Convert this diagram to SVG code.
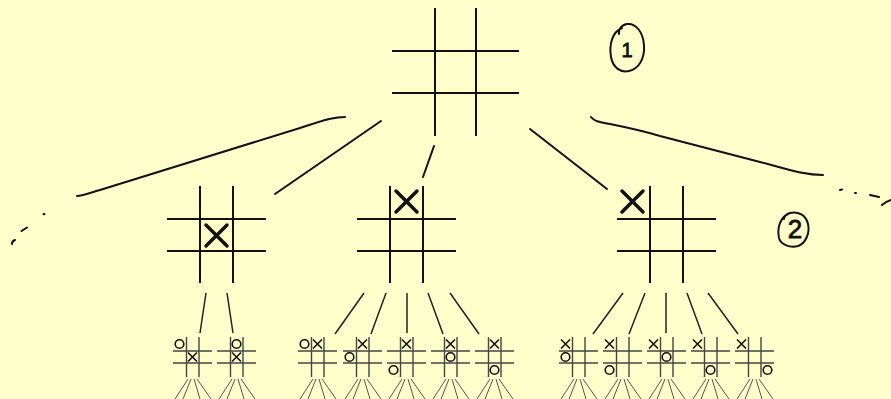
<svg xmlns="http://www.w3.org/2000/svg" width="891" height="399" viewBox="0 0 891 399">
<style>
.ln{stroke:#111;stroke-width:2;fill:none;stroke-linecap:butt}
.cn{stroke:#111;stroke-width:2;fill:none;stroke-linecap:round}
.cs{stroke:#222;stroke-width:1.5;fill:none}
.bx{stroke:#111;stroke-width:3.5;fill:none;stroke-linecap:round}
.sg{stroke:#444;stroke-width:1.4;fill:none}
.sm{stroke:#111;stroke-width:1.6;fill:none}
.fan{stroke:#555;stroke-width:1;fill:none}
.lbl{font-family:"Liberation Sans",Arial,sans-serif;fill:#111;stroke:#111;stroke-width:0.8;text-anchor:middle}
</style>
<defs>
<g id="mgrid">
<path class="ln" d="M33,0V97M66,0V97M0,33H99M0,65H99"/>
</g>
<g id="sgrid">
<path class="sg" d="M13.5,0V40M26,0V40M0,14H39M0,26H39"/>
<path class="fan" d="M15,42L2,62M18,42L10,62M21,42L27,62M24,42L38,62"/>
</g>
<g id="sx"><path class="sm" d="M-4.5,-4.5L4.5,4.5M4.5,-4.5L-4.5,4.5"/></g>
<g id="so"><circle class="sm" r="4.3"/></g>
</defs>
<rect width="891" height="399" fill="#FFFFCC"/>

<g id="connectors">
<path class="cn" d="M345,117C336,117 330,118 300,128L100,190C90,193 82,196 77,196"/>
<path class="cn" d="M43.5,214l1,0.3M21.5,231L27,227.5M12,244Q12,241 15,240" stroke-width="1.5"/>
<path class="cn" d="M381,121L275,194"/>
<path class="cn" d="M434,146L423,177"/>
<path class="cn" d="M530,129L607,189"/>
<path class="cn" d="M591,117C594,121 598,122 610,124C625,127 640,130 660,136L760,162C790,170 805,175 823,175"/>
<path class="cn" d="M840,190l2,-0.4M855,193l1,0M870,195L879,197M882,205Q885,202 891,200" stroke-width="1.5"/>
<path class="cs" d="M206,293L200,333M227,293L233,333"/>
<path class="cs" d="M364,293L335,334M386,293L371,334M407,293L407,333M428,293L443,334M450,293L479,334"/>
<path class="cs" d="M623,293L593,334M645,293L629,334M666,293L666,333M687,293L702,334M708,293L738,334"/>
</g>

<g id="root">
<path class="ln" d="M435,8V136M476,8V136M392,51H519M392,93H519"/>
</g>

<g id="label1">
<path class="cn" d="M622,28C612,32 609,45 611,57C613,68 621,73 629,71C639,69 645,58 644,45C643,32 636,23 627,24C621,25 618,30 619,34"/>
<text class="lbl" x="627" y="57" font-size="20" stroke-width="0.4">1</text>
</g>

<g id="label2">
<path class="cn" d="M788,214C780,218 777,228 779,238C781,245 790,248 798,246C806,243 810,233 808,224C806,215 798,211 790,213C786,214 784,217 784,219"/>
<text class="lbl" x="795" y="238" font-size="26">2</text>
</g>

<g id="boardA">
<use href="#mgrid" x="167" y="186"/>
<path class="bx" d="M206,225L227,246M227,225L206,246"/>
</g>
<g id="boardB">
<use href="#mgrid" x="357" y="186"/>
<path class="bx" d="M396,191L417,212M417,191L396,212"/>
</g>
<g id="boardC">
<use href="#mgrid" x="617" y="186"/>
<path class="bx" d="M622,191L643,212M643,191L622,212"/>
</g>

<g id="A1"><use href="#sgrid" x="173" y="337"/><use href="#so" x="179.5" y="344"/><use href="#sx" x="192.5" y="357"/></g>
<g id="A2"><use href="#sgrid" x="217" y="337"/><use href="#so" x="236.5" y="344"/><use href="#sx" x="236.5" y="357"/></g>

<g id="B1"><use href="#sgrid" x="298" y="337"/><use href="#so" x="304.5" y="344"/><use href="#sx" x="317.5" y="344"/></g>
<g id="B2"><use href="#sgrid" x="343" y="337"/><use href="#sx" x="362.5" y="344"/><use href="#so" x="349.5" y="357"/></g>
<g id="B3"><use href="#sgrid" x="387" y="337"/><use href="#sx" x="406.5" y="344"/><use href="#so" x="393.5" y="370"/></g>
<g id="B4"><use href="#sgrid" x="431" y="337"/><use href="#sx" x="450.5" y="344"/><use href="#so" x="450.5" y="357"/></g>
<g id="B5"><use href="#sgrid" x="475" y="337"/><use href="#sx" x="494.5" y="344"/><use href="#so" x="494.5" y="370"/></g>

<g id="C1"><use href="#sgrid" x="559" y="337"/><use href="#sx" x="565.5" y="344"/><use href="#so" x="565.5" y="357"/></g>
<g id="C2"><use href="#sgrid" x="603" y="337"/><use href="#sx" x="609.5" y="344"/><use href="#so" x="609.5" y="370"/></g>
<g id="C3"><use href="#sgrid" x="647" y="337"/><use href="#sx" x="653.5" y="344"/><use href="#so" x="666.5" y="357"/></g>
<g id="C4"><use href="#sgrid" x="691" y="337"/><use href="#sx" x="697.5" y="344"/><use href="#so" x="710.5" y="370"/></g>
<g id="C5"><use href="#sgrid" x="735" y="337"/><use href="#sx" x="741.5" y="344"/><use href="#so" x="767.5" y="370"/></g>
</svg>
